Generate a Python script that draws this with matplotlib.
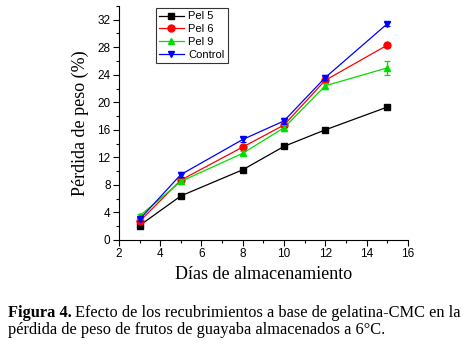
import matplotlib
matplotlib.use("Agg")
import matplotlib.pyplot as plt
from matplotlib.ticker import MultipleLocator

days = [3, 5, 8, 10, 12, 15]
pel5 = [2.1, 6.4, 10.2, 13.6, 16.0, 19.3]
pel6 = [2.7, 8.7, 13.5, 16.7, 23.2, 28.3]
pel9 = [3.5, 8.5, 12.6, 16.3, 22.4, 25.0]
control = [3.0, 9.5, 14.6, 17.3, 23.6, 31.4]
err5 = [0.2, 0.2, 0.2, 0.2, 0.2, 0.2]
err6 = [0.3, 0.3, 0.3, 0.3, 0.4, 0.3]
err9 = [0.3, 0.4, 0.3, 0.4, 0.4, 1.0]
errc = [0.3, 0.4, 0.4, 0.4, 0.4, 0.3]

series = [
    ("Pel 5", pel5, err5, "black", "s"),
    ("Pel 6", pel6, err6, "red", "o"),
    ("Pel 9", pel9, err9, "#00dd00", "^"),
    ("Control", control, errc, "blue", "v"),
]

sans = ["Liberation Sans", "DejaVu Sans"]
serif = ["Liberation Serif", "DejaVu Serif"]

fig = plt.figure(figsize=(4.72, 3.64), dpi=100)
ax = fig.add_axes([0.252, 0.3407, 0.612, 0.643])

for label, vals, err, col, mk in series:
    ax.errorbar(days, vals, yerr=err, fmt="none", ecolor=col,
                elinewidth=0.9, capsize=2.5, capthick=0.9)
    ax.plot(days, vals, color=col, marker=mk, markersize=5, lw=0.9, label=label)

ax.set_xlim(2, 16)
ax.set_ylim(0, 34)
ax.xaxis.set_major_locator(MultipleLocator(2))
ax.xaxis.set_minor_locator(MultipleLocator(1))
ax.yaxis.set_major_locator(MultipleLocator(4))
ax.yaxis.set_minor_locator(MultipleLocator(2))
ax.set_yticks(range(0, 33, 4))
ax.spines["top"].set_visible(False)
ax.spines["right"].set_visible(False)
ax.tick_params(which="major", direction="out", length=4, width=0.8, labelsize=8.5, pad=2)
ax.tick_params(which="minor", direction="out", length=2.5, width=0.8)
for t in ax.get_xticklabels() + ax.get_yticklabels():
    t.set_family(sans)

ax.set_xlabel("Días de almacenamiento", family=serif, fontsize=13, labelpad=4)
ax.set_ylabel("Pérdida de peso (%)", family=serif, fontsize=13, labelpad=6)

leg = ax.legend(loc="upper left", bbox_to_anchor=(0.12, 1.0), prop={"family": sans, "size": 8},
                frameon=True, fancybox=False, edgecolor="black", handlelength=2.2,
                borderpad=0.3, labelspacing=0.25, handletextpad=0.4, borderaxespad=0.2)
leg.get_frame().set_linewidth(0.8)

cap_y = 0.129
cap_size = 11.8
t1 = fig.text(0.017, cap_y, "Figura 4.", family=serif, fontsize=cap_size, weight="bold", va="baseline")
fig.canvas.draw()
bb = t1.get_window_extent(fig.canvas.get_renderer())
x1 = bb.x1 / fig.bbox.width
fig.text(x1 + 0.007, cap_y, "Efecto de los recubrimientos a base de gelatina-CMC en la",
         family=serif, fontsize=cap_size, va="baseline")
fig.text(0.017, 0.0824, "pérdida de peso de frutos de guayaba almacenados a 6°C.",
         family=serif, fontsize=cap_size, va="baseline")

fig.savefig("out.png", dpi=100)
